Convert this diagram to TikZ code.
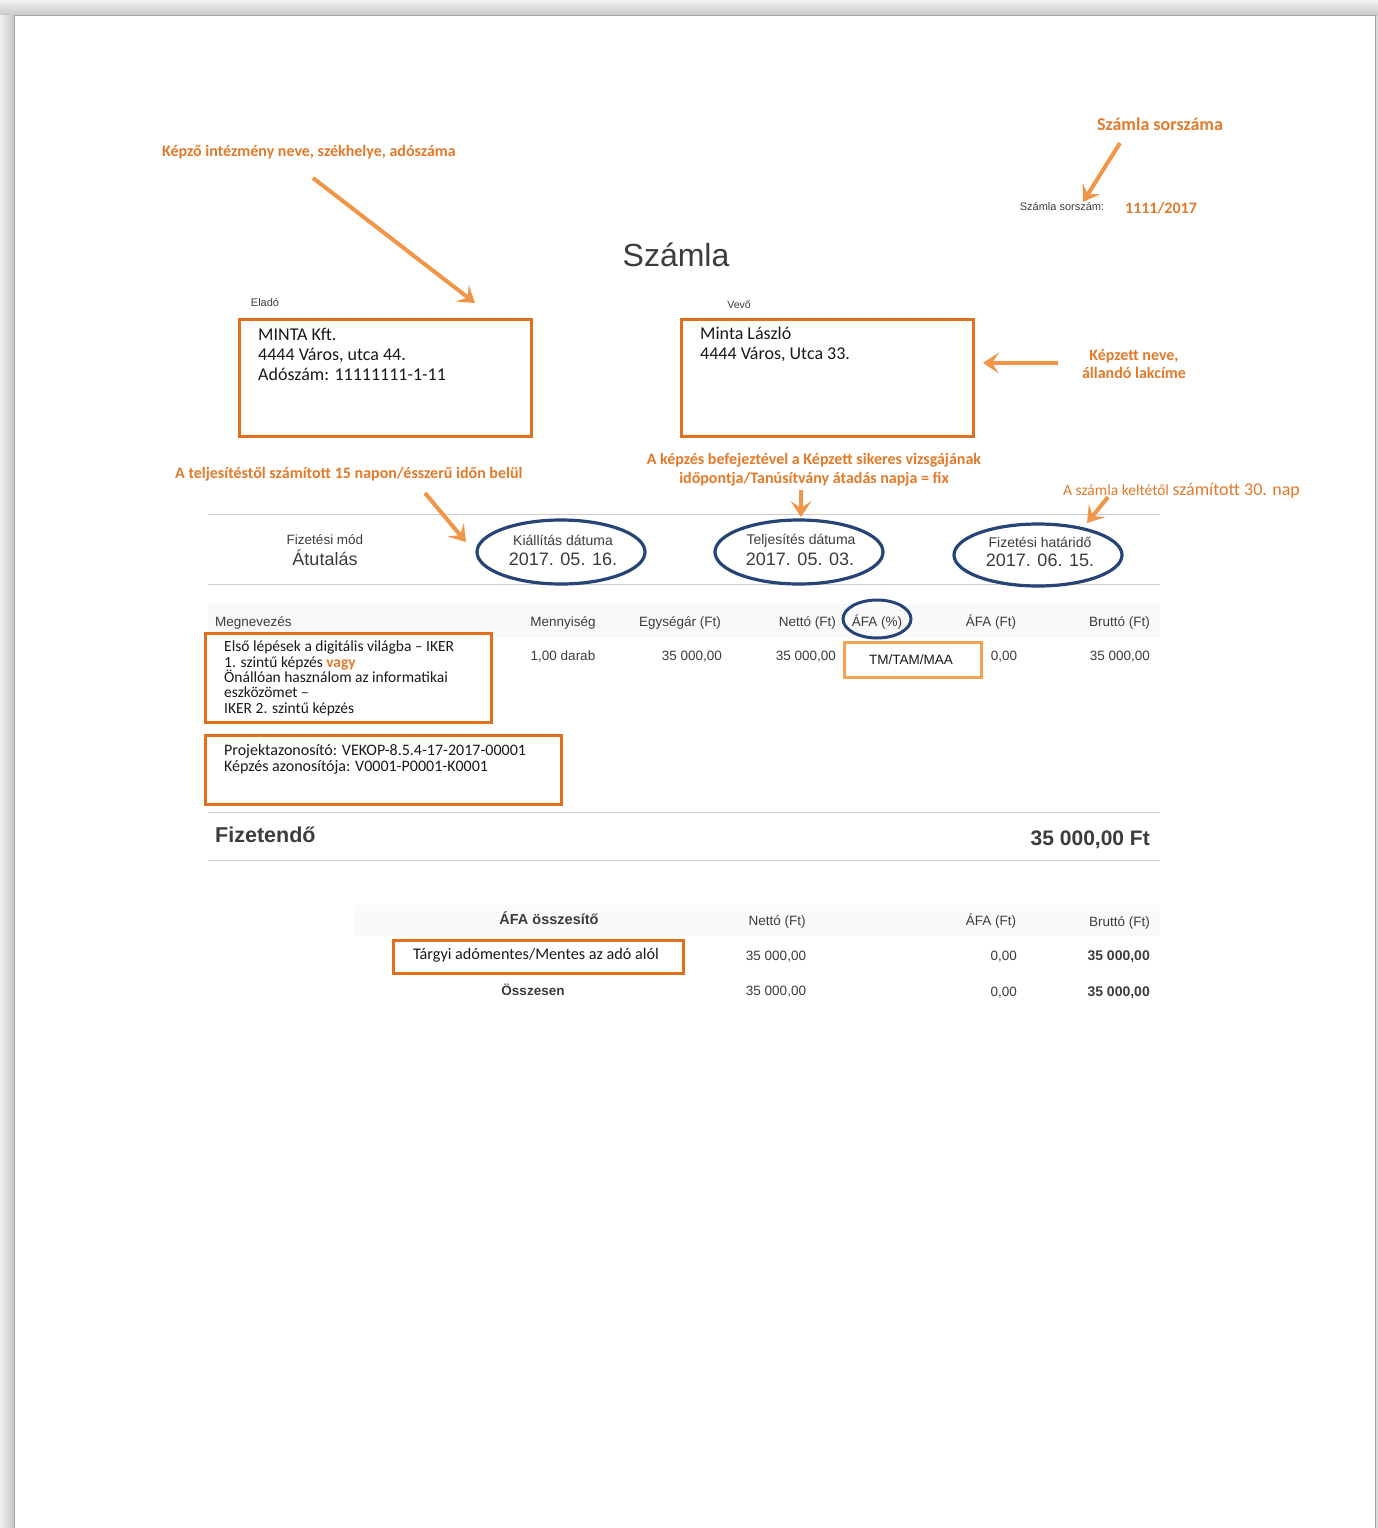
\documentclass[tikz,border=0pt]{standalone}
\usepackage{fontspec}
\setmainfont{Liberation Sans}
\newfontfamily\calib{Carlito}
\usetikzlibrary{arrows.meta,shapes.geometric}
\definecolor{notecol}{RGB}{226,122,42}
\definecolor{arrowcol}{RGB}{241,150,72}
\definecolor{boxcol}{RGB}{224,112,30}
\definecolor{lightbox}{RGB}{246,162,82}
\definecolor{ovalcol}{RGB}{38,68,118}
\definecolor{inktext}{RGB}{60,60,60}
\definecolor{boxtext}{RGB}{25,25,25}
\newcommand{\fsz}[2]{\fontsize{#1}{#2}\selectfont}

\begin{document}
\begin{tikzpicture}[x=1pt,y=-1pt,
    note/.style={text=notecol,font=\calib\bfseries\fsz{16}{19},inner sep=0pt},
    note arrow/.style={draw=arrowcol,line width=4pt,-{Stealth[length=16pt,width=21pt,inset=7pt]}},
    markbox/.style={draw=boxcol,line width=3pt,rectangle,anchor=north west},
    oval/.style={draw=ovalcol,line width=3.2pt,ellipse,inner sep=0pt},
    cell/.style={text=inktext,font=\fsz{13.5}{16},inner sep=0pt},
    boxline/.style={text=boxtext,align=left,anchor=north west,inner sep=0pt},
    rule/.style={draw=gray!40,line width=0.8pt}]
    \useasboundingbox (0,0) rectangle (1378,1528);
    % page and its shadow
    \fill[gray!30] (0,0) rectangle (1378,1528);
    \shade[top color=gray!10,bottom color=gray!45] (0,0) rectangle (1378,16);
    \shade[left color=gray!10,right color=gray!45] (0,16) rectangle (14,1528);
    \fill[white] (14,16) rectangle (1375,1528);
    \draw[gray!70,line width=1pt] (14,1528) -- (14,16) -- (1375,16) -- (1375,1528);

    \node[text=inktext,font=\fsz{32}{36}] (title) at (676,255) {Számla};

    % invoice number
    \node[note,font=\calib\bfseries\fsz{18}{20}] (numnote) at (1160,124) {Számla sorszáma};
    \node[cell,font=\fsz{11}{13}] (numlabel) at (1062,207) {Számla sorszám:};
    \node[note,font=\calib\bfseries\fsz{16}{18}] (numval) at (1161,208) {1111/2017};
    \coordinate (numfrom) at (1120,143);
    \coordinate (numto) at (1083,202);
    \draw[note arrow] (numfrom) -- (numto);

    % seller and buyer
    \node[note,anchor=west] (sellernote) at (162,152) {Képző intézmény neve, székhelye, adószáma};
    \coordinate (sellerfrom) at (313,178);
    \coordinate (sellerto) at (475,303);
    \draw[note arrow] (sellerfrom) -- (sellerto);
    \node[cell,font=\fsz{11}{13}] (sellerhead) at (265,303) {Eladó};
    \node[markbox,minimum width=292pt,minimum height=117pt] (seller) at (238,318) {};
    \node[boxline,font=\calib\fsz{18}{20}] (sellertext) at (258,328)
        {MINTA Kft.\\4444 Város, utca 44.\\Adószám: 11111111-1-11};

    \node[cell,font=\fsz{10.5}{13}] (buyerhead) at (739,305) {Vevő};
    \node[markbox,minimum width=292pt,minimum height=117pt] (buyer) at (680,318) {};
    \node[boxline,font=\calib\fsz{18}{20}] (buyertext) at (700,327)
        {Minta László\\4444 Város, Utca 33.};
    \node[note,align=center,font=\calib\bfseries\fsz{16}{18}] (buyernote) at (1134,364) {Képzett neve,\\állandó lakcíme};
    \coordinate (buyerfrom) at (1058,363);
    \coordinate (buyerto) at (983,363);
    \draw[note arrow] (buyerfrom) -- (buyerto);

    % dates
    \draw[rule] (208,514) -- (1160,514);
    \draw[rule] (208,584) -- (1160,584);
    \node[cell] (paylabel) at (325,540) {Fizetési mód};
    \node[cell,font=\fsz{18}{20}] (payval) at (325,558) {Átutalás};
    \node[oval,minimum width=168pt,minimum height=64pt] (issue) at (561,552) {};
    \node[cell,font=\fsz{14}{16}] (issuelbl) at (563,540) {Kiállítás dátuma};
    \node[cell,font=\fsz{18}{20}] (issueval) at (563,559) {2017. 05. 16.};
    \node[oval,minimum width=168pt,minimum height=64pt] (done) at (799,552) {};
    \node[cell,font=\fsz{14}{16}] (donelbl) at (801,541) {Teljesítés dátuma};
    \node[cell,font=\fsz{18}{20}] (doneval) at (800,559) {2017. 05. 03.};
    \node[oval,minimum width=168pt,minimum height=62pt] (due) at (1038,555) {};
    \node[cell,font=\fsz{14}{16}] (duelbl) at (1040,542) {Fizetési határidő};
    \node[cell,font=\fsz{18}{20}] (dueval) at (1040,560) {2017. 06. 15.};

    \node[note,anchor=west] (issuenote) at (175,474) {A teljesítéstől számított 15 napon/ésszerű időn belül};
    \coordinate (issuefrom) at (425,493);
    \coordinate (issueto) at (466,542);
    \draw[note arrow] (issuefrom) -- (issueto);
    \node[note,align=center,font=\calib\bfseries\fsz{16}{19}] (donenote) at (814,470)
        {A képzés befejeztével a Képzett sikeres vizsgájának\\időpontja/Tanúsítvány átadás napja = fix};
    \coordinate (donefrom) at (801,490);
    \coordinate (doneto) at (801,517);
    \draw[note arrow] (donefrom) -- (doneto);
    \node[note,anchor=base west,font=\calib\fsz{15.5}{18}] (duenote) at (1063,495)
        {A számla keltétől {\fsz{18}{20}számított 30. nap}};
    \coordinate (duefrom) at (1108,497);
    \coordinate (dueto) at (1087,523);
    \draw[note arrow] (duefrom) -- (dueto);

    % items
    \fill[gray!5] (208,604) rectangle (1160,638);
    \node[cell,anchor=base west] (hname) at (215,626) {Megnevezés};
    \node[cell,anchor=base] (hqty) at (563,626) {Mennyiség};
    \node[cell,anchor=base] (hunit) at (680,626) {Egységár (Ft)};
    \node[cell,anchor=base east] (hnet) at (836,626) {Nettó (Ft)};
    \node[cell,anchor=base] (hrate) at (877,626) {ÁFA (\%)};
    \node[cell,anchor=base] (hvat) at (991,626) {ÁFA (Ft)};
    \node[cell,anchor=base east] (hgross) at (1150,626) {Bruttó (Ft)};
    \node[oval,minimum width=68pt,minimum height=38pt,line width=3pt] (rateoval) at (877,619) {};

    \node[cell,anchor=base] (qty) at (563,660) {1,00 darab};
    \node[cell,anchor=base east] (unit) at (722,660) {35 000,00};
    \node[cell,anchor=base east] (net) at (836,660) {35 000,00};
    \node[markbox,draw=lightbox,minimum width=137pt,minimum height=35pt] (rate) at (843,641) {};
    \node[cell,anchor=base,text=boxtext] (rateval) at (911,664) {TM/TAM/MAA};
    \node[cell,anchor=base] (vat) at (1004,660) {0,00};
    \node[cell,anchor=base east] (gross) at (1150,660) {35 000,00};

    \node[markbox,minimum width=286pt,minimum height=89pt] (item) at (204,632) {};
    \node[boxline,font=\calib\fsz{15.5}{15.3}] (itemtext) at (224,641)
        {Első lépések a digitális világba – IKER\\1. szintű képzés \textcolor{notecol}{\bfseries vagy}\\Önállóan használom az informatikai\\eszközömet –\\IKER 2. szintű képzés};
    \node[markbox,minimum width=356pt,minimum height=69pt] (project) at (204,734) {};
    \node[boxline,font=\calib\fsz{16}{16}] (projecttext) at (224,744)
        {Projektazonosító: VEKOP-8.5.4-17-2017-00001\\Képzés azonosítója: V0001-P0001-K0001};

    % total
    \draw[rule] (208,812) -- (1160,812);
    \draw[rule] (208,860) -- (1160,860);
    \node[cell,anchor=base west,font=\bfseries\fsz{21.5}{24}] (paylbl) at (215,842) {Fizetendő};
    \node[cell,anchor=base east,font=\bfseries\fsz{21}{24}] (paysum) at (1150,845) {35 000,00 Ft};

    % VAT summary
    \fill[gray!4] (355,905) rectangle (1160,936);
    \node[cell,anchor=base,font=\bfseries\fsz{14.5}{16}] (shead) at (549,924) {ÁFA összesítő};
    \node[cell,anchor=base] (snet) at (777,925) {Nettó (Ft)};
    \node[cell,anchor=base] (svat) at (991,925) {ÁFA (Ft)};
    \node[cell,anchor=base east] (sgross) at (1150,926) {Bruttó (Ft)};
    \node[markbox,minimum width=290pt,minimum height=33pt] (exempt) at (392,939) {};
    \node[text=boxtext,font=\calib\fsz{16.2}{18},inner sep=0pt] (exempttext) at (536,955) {Tárgyi adómentes/Mentes az adó alól};
    \node[cell,anchor=base] (snet1) at (776,960) {35 000,00};
    \node[cell,anchor=base east] (svat1) at (1017,960) {0,00};
    \node[cell,anchor=base east,font=\bfseries\fsz{14}{16}] (sgross1) at (1150,960) {35 000,00};
    \node[cell,anchor=base,font=\bfseries\fsz{13.5}{16}] (stotal) at (533,995) {Összesen};
    \node[cell,anchor=base] (snet2) at (776,995) {35 000,00};
    \node[cell,anchor=base east] (svat2) at (1017,996) {0,00};
    \node[cell,anchor=base east,font=\bfseries\fsz{14}{16}] (sgross2) at (1150,996) {35 000,00};
\end{tikzpicture}
\end{document}
